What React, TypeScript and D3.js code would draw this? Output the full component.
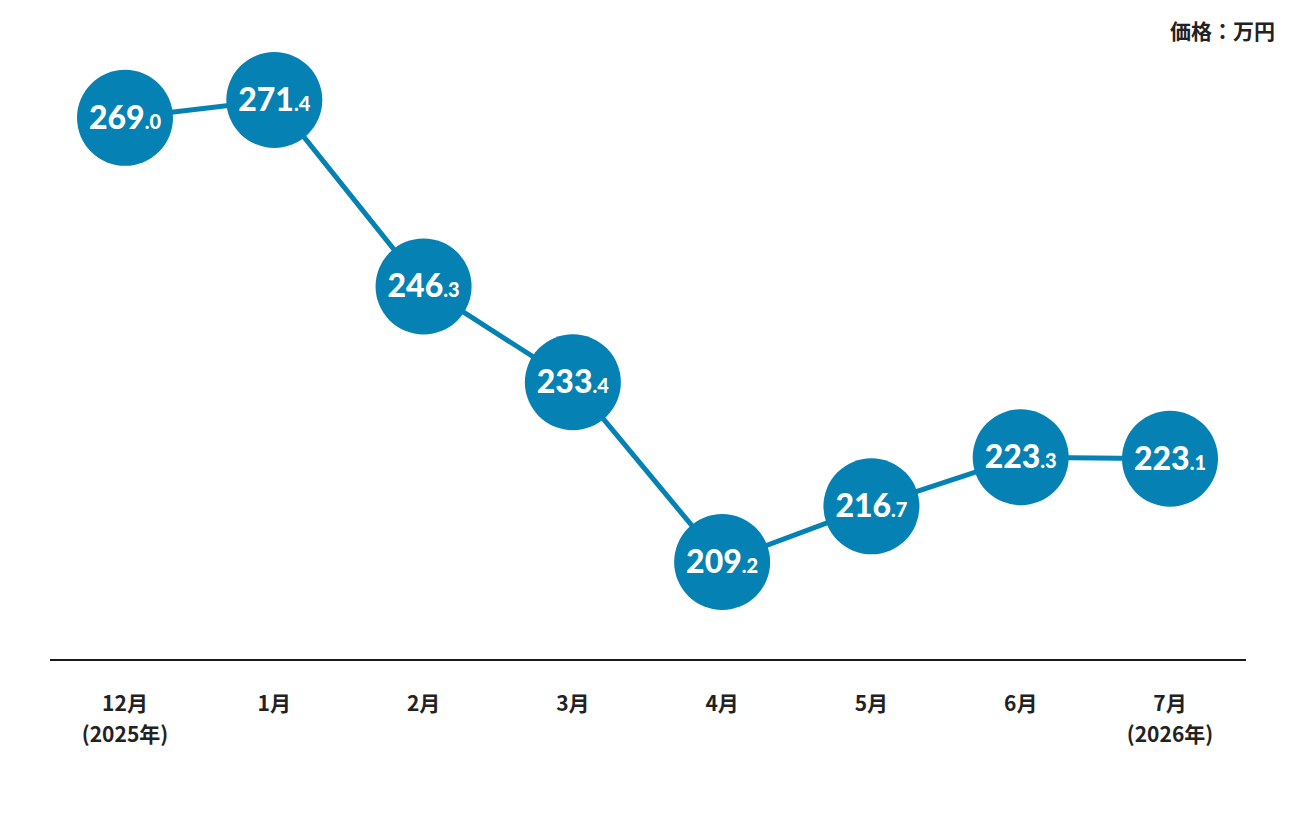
import React from "react";
import * as d3 from "d3";

const months = ["12月", "1月", "2月", "3月", "4月", "5月", "6月", "7月"];
const years = ["(2025年)", "", "", "", "", "", "", "(2026年)"];
const prices = [269.0, 271.4, 246.3, 233.4, 209.2, 216.7, 223.3, 223.1];
const unitLabel = "価格：万円";

const W = 1296;
const H = 816;
const BLUE = "#0581b3";

export default function App() {
  const x = d3
    .scalePoint<string>()
    .domain(months)
    .range([125, 1170]);
  const y = d3.scaleLinear().domain([209.2, 271.4]).range([562, 100]);

  const line = d3
    .line<number>()
    .x((_, i) => x(months[i]) as number)
    .y((d) => y(d));

  const numFont = "Lato, 'Open Sans', sans-serif";
  const jpFont = "'Noto Sans CJK JP', 'Noto Sans', sans-serif";

  return (
    <svg
      width={W}
      height={H}
      viewBox={`0 0 ${W} ${H}`}
      style={{ position: "absolute", left: 0, top: 0, background: "#fff" }}
    >
      <text
        x={1275}
        y={39}
        textAnchor="end"
        fontFamily={jpFont}
        fontWeight={700}
        fontSize={21}
        fill="#222"
      >
        {unitLabel}
      </text>
      <path d={line(prices) || ""} fill="none" stroke={BLUE} strokeWidth={5} />
      {prices.map((v, i) => {
        const cx = x(months[i]) as number;
        const cy = y(v);
        const [intPart, decPart] = v.toFixed(1).split(".");
        return (
          <g key={i}>
            <circle cx={cx} cy={cy} r={48} fill={BLUE} />
            <text
              x={cx}
              y={cy + 11}
              textAnchor="middle"
              fontFamily={numFont}
              fontWeight={900}
              fill="#fff"
            >
              <tspan fontSize={32}>{intPart}</tspan>
              <tspan fontSize={20}>{"." + decPart}</tspan>
            </text>
          </g>
        );
      })}
      <line x1={50} x2={1246} y1={660} y2={660} stroke="#1a1a1a" strokeWidth={2} />
      {months.map((m, i) => {
        const cx = x(m) as number;
        return (
          <g key={m}>
            <text
              x={cx}
              y={711}
              textAnchor="middle"
              fontFamily={jpFont}
              fontWeight={700}
              fontSize={21}
              fill="#222"
            >
              {m}
            </text>
            {years[i] && (
              <text
                x={cx}
                y={742}
                textAnchor="middle"
                fontFamily={jpFont}
                fontWeight={700}
                fontSize={21}
                fill="#222"
              >
                {years[i]}
              </text>
            )}
          </g>
        );
      })}
    </svg>
  );
}
